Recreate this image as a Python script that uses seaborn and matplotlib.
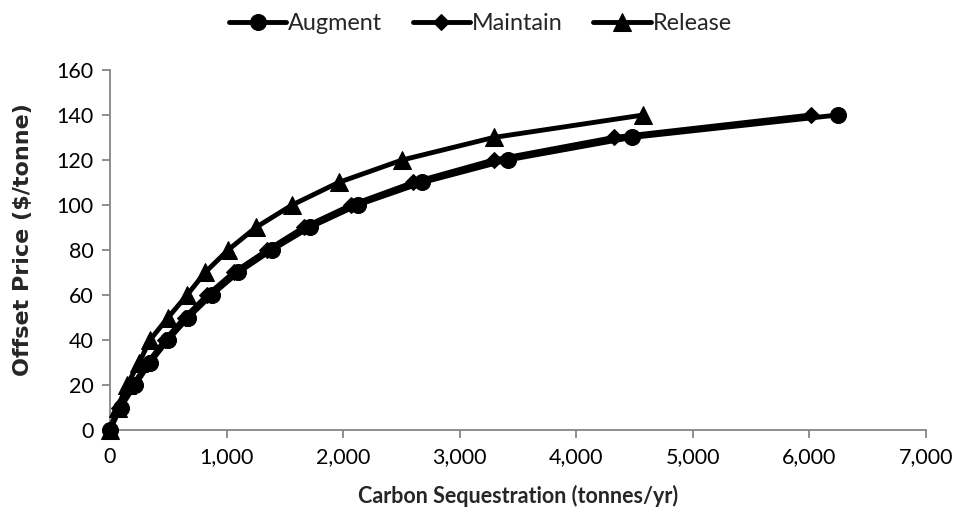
import matplotlib
matplotlib.use("Agg")
import matplotlib.pyplot as plt
import matplotlib.ticker as mticker
import seaborn as sns
import pandas as pd

price = [0, 10, 20, 30, 40, 50, 60, 70, 80, 90, 100, 110, 120, 130, 140]
augment = [0, 90, 215, 345, 498, 672, 872, 1100, 1388, 1712, 2125, 2680, 3410, 4475, 6245]
maintain = [0, 75, 195, 325, 470, 640, 835, 1060, 1350, 1660, 2070, 2600, 3290, 4320, 6015]
release = [0, 65, 145, 250, 343, 498, 661, 815, 1013, 1250, 1562, 1960, 2506, 3290, 4575]

series_names = ["Augment", "Maintain", "Release"]
series_vals = [augment, maintain, release]

sns.set_theme(style="white")
plt.rcParams["font.family"] = ["Lato", "DejaVu Sans"]

fig = plt.figure(figsize=(9.61, 5.23), dpi=100)
ax = fig.add_axes([0.1145, 0.1778, 0.8491, 0.6884])

styles = {
    "Augment": dict(marker="o", markersize=11.5),
    "Maintain": dict(marker="D", markersize=8.5),
    "Release": dict(marker="^", markersize=12.5),
}

for name, vals in zip(series_names, series_vals):
    df = pd.DataFrame({"Carbon": vals, "Price": price})
    sns.lineplot(data=df, x="Carbon", y="Price", ax=ax, color="black",
                 linewidth=3.5, sort=False, label=name, clip_on=False,
                 markeredgecolor="black", markerfacecolor="black",
                 **styles[name])

ax.set_xlim(0, 7000)
ax.set_ylim(0, 160)
ax.set_xticks(range(0, 7001, 1000))
ax.set_yticks(range(0, 161, 20))
ax.xaxis.set_major_formatter(mticker.FuncFormatter(lambda v, p: f"{int(v):,}"))

for s in ["top", "right"]:
    ax.spines[s].set_visible(False)
for s in ["left", "bottom"]:
    ax.spines[s].set_color("#868686")
    ax.spines[s].set_linewidth(1.3)
    ax.spines[s].set_zorder(0.5)
ax.tick_params(axis="both", which="major", direction="out", length=6, width=1.3,
               color="#868686", labelsize=15.5, labelcolor="black", pad=6,
               left=True, bottom=True)

ax.set_xlabel("Carbon Sequestration (tonnes/yr)", fontsize=15.5, fontweight="bold", labelpad=13)
ax.set_ylabel(r"Offset Price (\$/tonne)", fontsize=16, fontweight="bold",
              family=["DejaVu Sans"])
ax.yaxis.set_label_coords(-0.095, 0.53)

if ax.legend_:
    ax.legend_.remove()
handles, labels = ax.get_legend_handles_labels()
fig.legend(handles, labels, loc="upper center", bbox_to_anchor=(0.5, 1.015), ncol=3,
           frameon=False, fontsize=16.8, handlelength=2.45, handletextpad=0.1,
           columnspacing=1.3)

fig.savefig("out.png", dpi=100)
